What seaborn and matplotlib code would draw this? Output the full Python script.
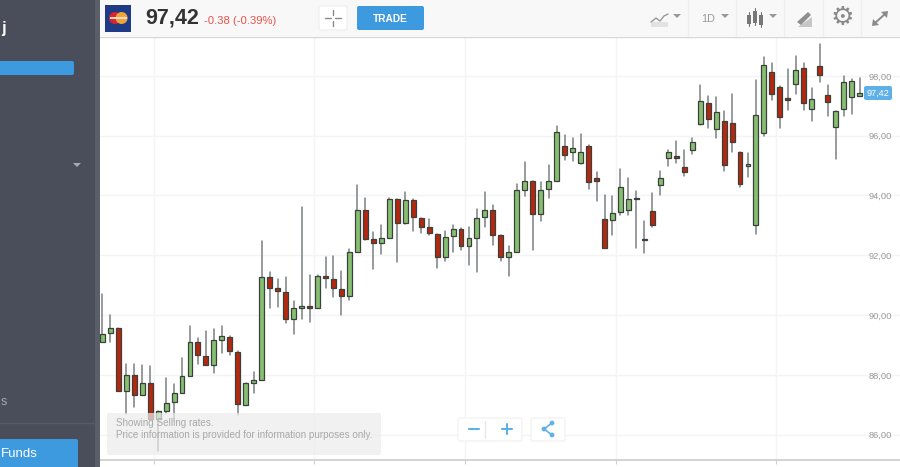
import matplotlib
matplotlib.use("Agg")
import matplotlib.pyplot as plt
from matplotlib.patches import Circle, FancyBboxPatch, Polygon, Rectangle
import pandas as pd
import seaborn as sns

# daily candles
opens = [89.09, 89.41, 89.56, 87.46, 87.98, 87.32, 87.74, 86.51, 86.80, 87.08, 87.40, 87.96,
         89.11, 88.64, 88.33, 89.18, 89.28, 88.78, 87.00, 87.73, 87.83, 91.26, 90.90, 90.76,
         89.88, 90.23, 90.30, 90.23, 91.30, 91.21, 90.86, 90.64, 92.11, 93.52, 92.55, 92.40,
         92.58, 93.88, 93.07, 93.85, 93.25, 92.95, 92.71, 91.94, 92.63, 92.88, 92.31, 92.59,
         93.27, 93.51, 92.67, 91.94, 92.11, 94.19, 94.47, 93.37, 94.21, 94.49, 95.67, 95.45,
         95.08, 95.67, 94.60, 93.21, 93.17, 93.45, 93.52, 93.93, 92.56, 93.47, 94.34, 95.26,
         95.31, 94.95, 95.52, 96.38, 97.08, 96.22, 96.50, 96.42, 95.46, 95.00, 93.02, 96.08,
         98.13, 97.63, 97.26, 97.73, 98.26, 96.90, 98.33, 97.35, 96.30, 96.90, 97.28, 97.33]
closes = [89.38, 89.57, 87.46, 87.98, 87.34, 87.74, 86.51, 86.79, 87.07, 87.39, 87.96, 89.11,
          88.66, 88.33, 89.16, 89.29, 88.80, 87.01, 87.74, 87.84, 91.28, 90.91, 90.79, 89.88,
          90.23, 90.30, 90.23, 91.30, 91.23, 90.89, 90.64, 92.10, 93.52, 92.56, 92.41, 92.58,
          93.88, 93.07, 93.85, 93.27, 92.94, 92.73, 91.94, 92.62, 92.88, 92.31, 92.58, 93.25,
          93.52, 92.69, 91.94, 92.10, 94.19, 94.47, 93.37, 94.19, 94.47, 96.12, 95.34, 95.60,
          95.47, 94.44, 94.49, 92.24, 93.41, 94.29, 93.88, 93.88, 92.50, 93.02, 94.58, 95.46,
          95.24, 94.78, 95.78, 97.16, 96.55, 96.80, 95.01, 95.80, 94.38, 95.05, 96.68, 98.36,
          97.38, 96.62, 97.20, 98.18, 97.10, 97.23, 98.02, 97.13, 96.82, 97.78, 97.83, 97.42]
highs = [90.71, 90.00, 89.56, 88.35, 88.37, 88.32, 88.29, 86.79, 87.91, 87.71, 88.57, 89.62,
         89.22, 89.48, 89.52, 89.62, 89.29, 88.79, 87.74, 88.11, 92.48, 91.43, 91.20, 91.28,
         90.47, 93.62, 91.35, 91.34, 91.95, 91.97, 91.48, 92.21, 94.36, 93.93, 92.78, 93.00,
         93.91, 93.88, 94.10, 93.88, 93.25, 93.21, 92.72, 92.80, 93.00, 92.91, 92.95, 93.55,
         94.10, 93.69, 92.67, 92.32, 94.39, 95.13, 94.47, 94.45, 95.01, 96.33, 96.03, 95.92,
         96.05, 95.70, 94.78, 94.01, 93.97, 94.89, 94.60, 94.16, 93.16, 94.09, 94.83, 95.53,
         95.83, 95.53, 95.91, 97.69, 97.33, 97.28, 96.84, 97.39, 95.46, 95.41, 97.87, 98.64,
         98.43, 97.65, 98.23, 98.66, 98.43, 97.59, 99.06, 97.69, 96.82, 97.98, 97.89, 97.94]
lows = [89.09, 89.09, 87.46, 86.70, 86.93, 87.32, 86.51, 85.45, 86.73, 86.46, 87.40, 87.96,
        88.38, 88.33, 88.05, 88.72, 88.66, 86.65, 87.00, 87.38, 87.83, 90.23, 90.27, 89.74,
        89.38, 89.87, 89.76, 90.23, 90.90, 90.61, 90.00, 90.50, 92.11, 92.52, 91.55, 92.03,
        92.58, 91.78, 93.05, 92.82, 92.76, 92.69, 91.58, 91.80, 92.12, 92.19, 91.67, 91.43,
        92.94, 92.36, 91.80, 91.30, 92.11, 93.99, 92.19, 93.16, 93.91, 94.49, 95.19, 95.14,
        95.05, 94.21, 93.83, 92.24, 92.67, 93.36, 93.36, 92.24, 92.07, 92.94, 94.00, 95.00,
        95.09, 94.64, 95.39, 96.37, 96.25, 95.91, 94.81, 95.47, 94.28, 94.61, 92.71, 96.00,
        97.19, 96.27, 96.87, 97.38, 96.85, 96.48, 97.78, 96.65, 95.22, 96.65, 96.71, 97.33]

price_ticks = [86, 88, 90, 92, 94, 96, 98]
month_days = [6.5, 26.5, 45.5, 64.5, 84.5]
last_price = "97,42"
change_text = "-0.38 (-0.39%)"
notice_lines = ["Showing Selling rates.", "Price information is provided for information purposes only."]

GREEN = "#86bf70"
RED = "#b5270e"
EDGE = "#3a403a"
BLUE = "#3d9ade"
LIGHT_BLUE = "#5fb0e6"
SIDEBAR = "#4a4e5a"

sns.set_theme(style="white")
plt.rcParams["font.family"] = ["Liberation Sans", "DejaVu Sans"]

df = pd.DataFrame({"day": range(len(opens)), "open": opens, "close": closes, "high": highs, "low": lows})
wicks = df.melt(id_vars="day", value_vars=["high", "low"], value_name="price")

fig = plt.figure(figsize=(9, 4.67), dpi=100, facecolor="white")

# chart area in pixels: x 100-900, y 37-459.5
ax = fig.add_axes([100 / 900, (467 - 459.5) / 467, 800 / 900, (459.5 - 37) / 467])
sns.lineplot(data=wicks, x="day", y="price", units="day", estimator=None, color="#7c8084",
             linewidth=1.1, legend=False, ax=ax, zorder=2)
for colour, part in [(GREEN, df[df["close"] >= df["open"]]), (RED, df[df["close"] < df["open"]])]:
    heights = (part["close"] - part["open"]).abs().clip(lower=0.05)
    ax.bar(part["day"], heights, bottom=part[["open", "close"]].min(axis=1), width=0.62,
           color=colour, edgecolor=EDGE, linewidth=0.9, zorder=3)

ax.set_xlim(-0.29, 100.07)
ax.set_ylim(85.17, 99.30)
ax.set_xlabel("")
ax.set_ylabel("")
ax.set_xticks(month_days)
ax.set_xticklabels([])
ax.set_yticks(price_ticks)
ax.set_yticklabels(["{},00".format(p) for p in price_ticks], fontsize=6.7, color="#9a9a9a")
ax.grid(True, color="#f4f4f4", linewidth=1)
ax.set_axisbelow(True)
ax.tick_params(axis="y", left=False, labelleft=False, right=False, labelright=True, pad=-28.5)
ax.tick_params(axis="x", bottom=True, length=2.8, width=0.8, color="#cfcfcf")
for side in ["top", "left", "right"]:
    ax.spines[side].set_visible(False)
ax.spines["bottom"].set_color("#cccccc")
ax.spines["bottom"].set_linewidth(1.2)

# page furniture around the chart, drawn in pixel coordinates
ui = fig.add_axes([0, 0, 1, 1], facecolor="none")
ui.set_xlim(0, 900)
ui.set_ylim(467, 0)
ui.axis("off")


def box(x, y, w, h, colour, radius=2, edge="none", alpha=1, z=5):
    ui.add_patch(FancyBboxPatch((x + radius, y + radius), w - 2 * radius, h - 2 * radius,
                                boxstyle="round,pad={}".format(radius), fc=colour, ec=edge,
                                lw=0.8, alpha=alpha, zorder=z))


# sidebar
ui.add_patch(Rectangle((0, 0), 95, 467, fc=SIDEBAR, ec="none", zorder=4))
ui.add_patch(Rectangle((95, 0), 5, 467, fc="#5a5e69", ec="none", zorder=4))
ui.plot([0, 95], [423, 423], color="#565a66", lw=1, zorder=5)
ui.text(1, 28, "j", color="white", fontsize=12, fontweight="bold", ha="left", va="center", zorder=6)
box(-6, 61, 80, 14, BLUE, radius=2)
ui.add_patch(Polygon([[73, 163], [81, 163], [77, 167]], fc="#a6a9b0", ec="none", zorder=6))
ui.text(0.5, 402, "s", color="#a6a9b0", fontsize=9, ha="left", va="center", zorder=6)
box(-8, 439, 86, 32, BLUE, radius=2)
ui.text(1, 454, "Funds", color="white", fontsize=9.5, ha="left", va="center", zorder=6)

# header
ui.add_patch(Rectangle((100, 0), 800, 36, fc="#f8f8f8", ec="none", zorder=4))
ui.plot([100, 900], [36.5, 36.5], color="#d8d8d8", lw=1, zorder=5)
ui.add_patch(Rectangle((105, 5), 26, 27, fc="#1f3b86", ec="none", zorder=5))
ui.add_patch(Circle((115, 18), 6, fc="#d8262c", ec="none", zorder=6))
ui.add_patch(Circle((121.6, 18), 6, fc="#f0a53a", ec="none", zorder=6))
ui.add_patch(Rectangle((109.5, 17), 17, 2, fc="#f3d9c8", ec="none", zorder=7))
ui.text(145, 18, last_price, color="#333333", fontsize=15.5, fontweight="bold", ha="left", va="center", zorder=6)
ui.text(204, 21, change_text, color="#e8524a", fontsize=8.1, ha="left", va="center", zorder=6)

box(319, 6, 28, 24, "white", radius=2, edge="#eeeeee")
for xs, ys in [([325, 331], [18, 18]), ([335, 341], [18, 18]), ([333, 333], [10, 15]), ([333, 333], [21, 26])]:
    ui.plot(xs, ys, color="#8a8a8a", lw=1, zorder=6)
box(357, 6, 67, 24, BLUE, radius=2)
ui.text(390.5, 18.5, "TRADE", color="white", fontsize=7.3, fontweight="bold", ha="center", va="center", zorder=6)

# toolbar icons
for sep in [688, 736, 784, 823, 861]:
    ui.plot([sep, sep], [0, 36], color="#eeeeee", lw=1, zorder=5)
GREY = "#9a9a9a"
ui.plot([651, 656, 660, 664, 668], [22, 18, 21, 16, 14], color=GREY, lw=1, zorder=6)
ui.add_patch(Rectangle((651, 22), 17, 5, fc="#e2e2e2", ec="none", zorder=5))
ui.text(708, 18.5, "1D", color=GREY, fontsize=7.8, ha="center", va="center", zorder=6)
for cx, top, bot in [(749, 15, 24), (755, 11, 23), (761, 15, 25)]:
    ui.plot([cx, cx], [top - 3, bot + 2], color="#777777", lw=0.8, zorder=6)
    ui.add_patch(Rectangle((cx - 2, top), 4, bot - top, fc="#777777", ec="none", zorder=6))
for tx in [677, 725, 773]:
    ui.add_patch(Polygon([[tx - 4, 14], [tx + 4, 14], [tx, 18]], fc=GREY, ec="none", zorder=6))
ui.add_patch(Polygon([[797, 22], [808, 12], [811, 15], [801, 25]], fc="#8f8f8f", ec="none", zorder=6))
ui.add_patch(Polygon([[798, 27], [812, 27], [812, 17]], fc="#c6c6c6", ec="none", zorder=5))
ui.text(842, 17.5, "\u2699", color="#8a8a8a", fontsize=19, ha="center", va="center", zorder=6,
        family="DejaVu Sans")
ui.plot([875, 885], [23, 14], color="#8a8a8a", lw=1.4, zorder=6)
ui.add_patch(Polygon([[888, 11], [881, 12], [887, 18]], fc="#8a8a8a", ec="none", zorder=6))
ui.add_patch(Polygon([[872, 26], [879, 25], [873, 19]], fc="#8a8a8a", ec="none", zorder=6))

# last price tag
box(864, 86, 28, 14, LIGHT_BLUE, radius=2)
ui.text(878, 93.3, last_price, color="white", fontsize=6.6, ha="center", va="center", zorder=6)

# rates notice
box(107, 413, 274, 42, "#ececec", radius=2, alpha=0.72, z=5)
ui.text(116, 423, notice_lines[0], color="#a8a8a8", fontsize=7.1, ha="left", va="center", zorder=6)
ui.text(116, 435, notice_lines[1], color="#a8a8a8", fontsize=7.1, ha="left", va="center", zorder=6)

# zoom and share buttons
box(458, 418, 64, 23, "white", radius=2, edge="#f0f0f0")
box(531, 418, 34, 23, "white", radius=2, edge="#f0f0f0")
ui.plot([485, 485], [421, 438], color="#e8e8e8", lw=1, zorder=6)
ui.plot([469, 479], [429, 429], color=LIGHT_BLUE, lw=1.5, zorder=6)
ui.plot([502, 512], [429, 429], color=LIGHT_BLUE, lw=1.5, zorder=6)
ui.plot([507, 507], [424, 434], color=LIGHT_BLUE, lw=1.5, zorder=6)
ui.plot([552, 544, 552], [423, 429, 435], color=LIGHT_BLUE, lw=1.2, zorder=6)
for sx, sy in [(552, 423), (544, 429), (552, 435)]:
    ui.add_patch(Circle((sx, sy), 2.4, fc=LIGHT_BLUE, ec="none", zorder=7))

fig.savefig("out.png", dpi=100)
